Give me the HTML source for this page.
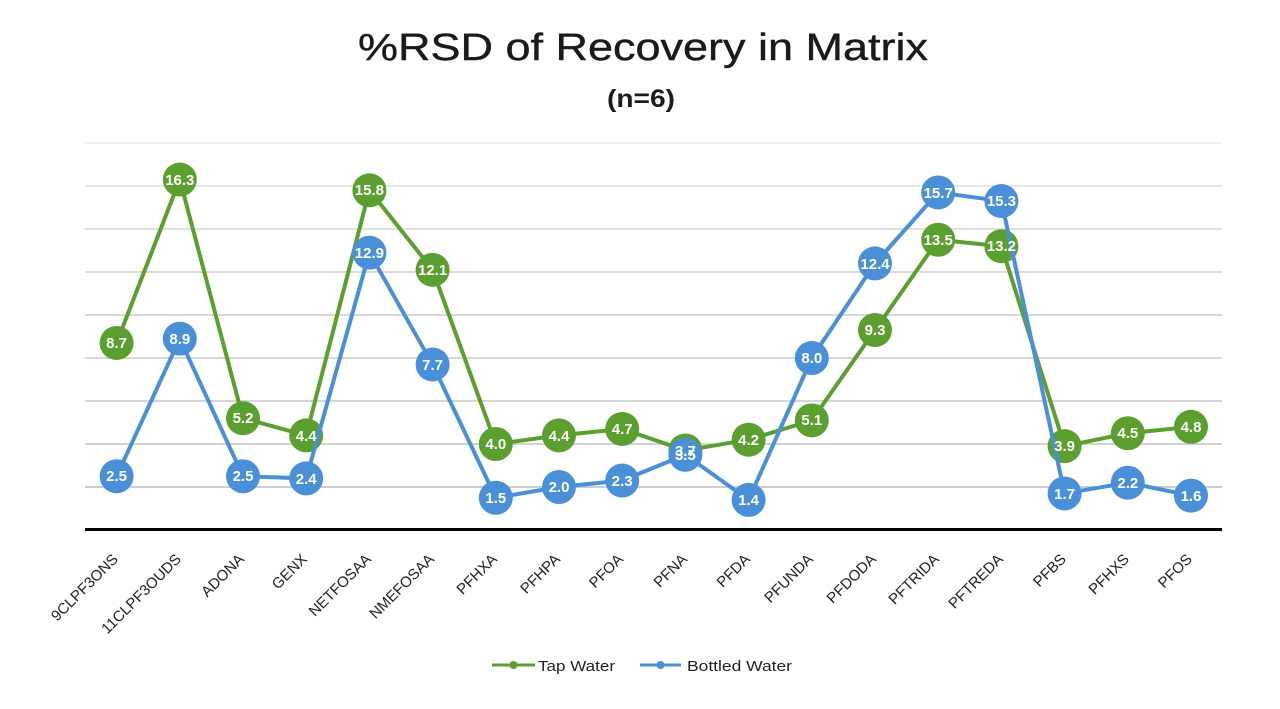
<!DOCTYPE html>
<html>
<head>
<meta charset="utf-8">
<style>
  html,body{margin:0;padding:0;background:#fff;}
  svg{display:block;}
  text{font-family:"Liberation Sans", Arial, sans-serif;}
</style>
</head>
<body>
<svg width="1280" height="709" viewBox="0 0 1280 709" xmlns="http://www.w3.org/2000/svg">
  <rect width="1280" height="709" fill="#fff"/>
  <!-- Title -->
  <text x="643" y="60" font-size="38" text-anchor="middle" fill="#1a1a1a" stroke="#1a1a1a" stroke-width="0.4" textLength="570" lengthAdjust="spacingAndGlyphs">%RSD of Recovery in Matrix</text>
  <text x="641" y="107" font-size="25" font-weight="bold" text-anchor="middle" fill="#1c1c1c" textLength="68" lengthAdjust="spacingAndGlyphs">(n=6)</text>

  <!-- Gridlines -->
  <g stroke-width="1.5">
    <line x1="85" y1="143" x2="1222" y2="143" stroke="#eeeeee"/>
    <line x1="85" y1="186" x2="1222" y2="186" stroke="#dedede"/>
    <line x1="85" y1="229" x2="1222" y2="229" stroke="#d6d6d6"/>
    <line x1="85" y1="272" x2="1222" y2="272" stroke="#d0d0d0"/>
    <line x1="85" y1="315" x2="1222" y2="315" stroke="#cccccc"/>
    <line x1="85" y1="358" x2="1222" y2="358" stroke="#cccccc"/>
    <line x1="85" y1="401" x2="1222" y2="401" stroke="#c8c8c8"/>
    <line x1="85" y1="444" x2="1222" y2="444" stroke="#c4c4c4"/>
    <line x1="85" y1="487" x2="1222" y2="487" stroke="#bcbcbc"/>
  </g>
  <!-- Axis -->
  <line x1="85" y1="529.5" x2="1222" y2="529.5" stroke="#000" stroke-width="3"/>

  <!-- Tap Water series -->
  <polyline fill="none" stroke="#5b9f2f" stroke-width="4" stroke-linejoin="round"
    points="116.6,342.95 179.8,179.55 243,418.2 306.2,435.4 369.4,190.3 432.6,269.85 495.8,444 559,435.4 622.2,428.95 685.4,450.45 748.6,439.7 811.8,420.35 875,330.05 938.2,239.75 1001.4,246.2 1064.6,446.15 1127.8,433.25 1191,426.8"/>
  <g fill="#5b9f2f">
    <circle cx="116.6" cy="342.95" r="17"/>
    <circle cx="179.8" cy="179.55" r="17"/>
    <circle cx="243" cy="418.2" r="17"/>
    <circle cx="306.2" cy="435.4" r="17"/>
    <circle cx="369.4" cy="190.3" r="17"/>
    <circle cx="432.6" cy="269.85" r="17"/>
    <circle cx="495.8" cy="444" r="17"/>
    <circle cx="559" cy="435.4" r="17"/>
    <circle cx="622.2" cy="428.95" r="17"/>
    <circle cx="685.4" cy="450.45" r="17"/>
    <circle cx="748.6" cy="439.7" r="17"/>
    <circle cx="811.8" cy="420.35" r="17"/>
    <circle cx="875" cy="330.05" r="17"/>
    <circle cx="938.2" cy="239.75" r="17"/>
    <circle cx="1001.4" cy="246.2" r="17"/>
    <circle cx="1064.6" cy="446.15" r="17"/>
    <circle cx="1127.8" cy="433.25" r="17"/>
    <circle cx="1191" cy="426.8" r="17"/>
  </g>

  <!-- Bottled Water series -->
  <polyline fill="none" stroke="#4a90d8" stroke-width="4" stroke-linejoin="round"
    points="116.6,476.25 179.8,338.65 243,476.25 306.2,478.4 369.4,252.65 432.6,364.45 495.8,497.75 559,487 622.2,480.55 685.4,454.75 748.6,499.9 811.8,358 875,263.4 938.2,192.45 1001.4,201.05 1064.6,493.45 1127.8,482.7 1191,495.6"/>
  <g fill="#4a90d8">
    <circle cx="116.6" cy="476.25" r="17"/>
    <circle cx="179.8" cy="338.65" r="17"/>
    <circle cx="243" cy="476.25" r="17"/>
    <circle cx="306.2" cy="478.4" r="17"/>
    <circle cx="369.4" cy="252.65" r="17"/>
    <circle cx="432.6" cy="364.45" r="17"/>
    <circle cx="495.8" cy="497.75" r="17"/>
    <circle cx="559" cy="487" r="17"/>
    <circle cx="622.2" cy="480.55" r="17"/>
    <circle cx="685.4" cy="454.75" r="17"/>
    <circle cx="748.6" cy="499.9" r="17"/>
    <circle cx="811.8" cy="358" r="17"/>
    <circle cx="875" cy="263.4" r="17"/>
    <circle cx="938.2" cy="192.45" r="17"/>
    <circle cx="1001.4" cy="201.05" r="17"/>
    <circle cx="1064.6" cy="493.45" r="17"/>
    <circle cx="1127.8" cy="482.7" r="17"/>
    <circle cx="1191" cy="495.6" r="17"/>
  </g>

  <!-- Data labels -->
  <g fill="#fff" font-size="15" font-weight="bold" text-anchor="middle">
    <text x="116.6" y="348">8.7</text>
    <text x="179.8" y="185">16.3</text>
    <text x="243" y="423">5.2</text>
    <text x="306.2" y="441">4.4</text>
    <text x="369.4" y="195">15.8</text>
    <text x="432.6" y="275">12.1</text>
    <text x="495.8" y="449">4.0</text>
    <text x="559" y="441">4.4</text>
    <text x="622.2" y="434">4.7</text>
    <text x="685.4" y="456">3.7</text>
    <text x="748.6" y="445">4.2</text>
    <text x="811.8" y="425">5.1</text>
    <text x="875" y="335">9.3</text>
    <text x="938.2" y="245">13.5</text>
    <text x="1001.4" y="251">13.2</text>
    <text x="1064.6" y="451">3.9</text>
    <text x="1127.8" y="438">4.5</text>
    <text x="1191" y="432">4.8</text>

    <text x="116.6" y="481">2.5</text>
    <text x="179.8" y="344">8.9</text>
    <text x="243" y="481">2.5</text>
    <text x="306.2" y="484">2.4</text>
    <text x="369.4" y="258">12.9</text>
    <text x="432.6" y="370">7.7</text>
    <text x="495.8" y="503">1.5</text>
    <text x="559" y="492">2.0</text>
    <text x="622.2" y="486">2.3</text>
    <text x="685.4" y="460">3.5</text>
    <text x="748.6" y="505">1.4</text>
    <text x="811.8" y="363">8.0</text>
    <text x="875" y="269">12.4</text>
    <text x="938.2" y="198">15.7</text>
    <text x="1001.4" y="206">15.3</text>
    <text x="1064.6" y="499">1.7</text>
    <text x="1127.8" y="488">2.2</text>
    <text x="1191" y="501">1.6</text>
  </g>

  <!-- X axis labels -->
  <g fill="#222" font-size="15" text-anchor="end">
    <text transform="translate(119,560) rotate(-45)">9CLPF3ONS</text>
    <text transform="translate(182,560) rotate(-45)">11CLPF3OUDS</text>
    <text transform="translate(245,560) rotate(-45)">ADONA</text>
    <text transform="translate(308,560) rotate(-45)">GENX</text>
    <text transform="translate(372,560) rotate(-45)">NETFOSAA</text>
    <text transform="translate(435,560) rotate(-45)">NMEFOSAA</text>
    <text transform="translate(498,560) rotate(-45)">PFHXA</text>
    <text transform="translate(561,560) rotate(-45)">PFHPA</text>
    <text transform="translate(624,560) rotate(-45)">PFOA</text>
    <text transform="translate(688,560) rotate(-45)">PFNA</text>
    <text transform="translate(751,560) rotate(-45)">PFDA</text>
    <text transform="translate(814,560) rotate(-45)">PFUNDA</text>
    <text transform="translate(877,560) rotate(-45)">PFDODA</text>
    <text transform="translate(940,560) rotate(-45)">PFTRIDA</text>
    <text transform="translate(1004,560) rotate(-45)">PFTREDA</text>
    <text transform="translate(1067,560) rotate(-45)">PFBS</text>
    <text transform="translate(1130,560) rotate(-45)">PFHXS</text>
    <text transform="translate(1193,560) rotate(-45)">PFOS</text>
  </g>

  <!-- Legend -->
  <line x1="492" y1="665" x2="535" y2="665" stroke="#5b9f2f" stroke-width="3"/>
  <circle cx="513.5" cy="665" r="4" fill="#5b9f2f"/>
  <text x="538" y="671" font-size="15" fill="#222" textLength="77" lengthAdjust="spacingAndGlyphs">Tap Water</text>
  <line x1="640" y1="665" x2="681" y2="665" stroke="#4a90d8" stroke-width="3"/>
  <circle cx="660.5" cy="665" r="4" fill="#4a90d8"/>
  <text x="687" y="671" font-size="15" fill="#222" textLength="105" lengthAdjust="spacingAndGlyphs">Bottled Water</text>
</svg>
</body>
</html>
